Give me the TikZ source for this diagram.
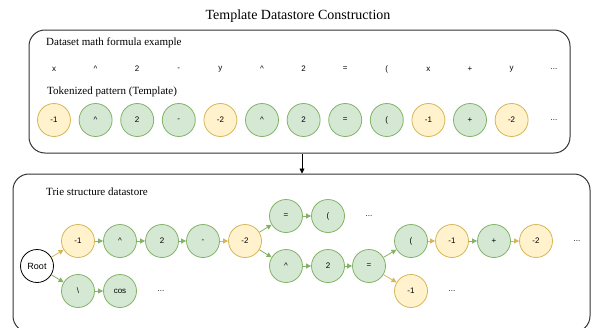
\documentclass[tikz,border=0pt]{standalone}
\usepackage{fontspec}
\setmainfont{Liberation Serif}
\setsansfont{Liberation Sans}
\usetikzlibrary{arrows.meta}
\definecolor{yfill}{HTML}{FFF2CC}
\definecolor{ydraw}{HTML}{D6B656}
\definecolor{gfill}{HTML}{D5E8D4}
\definecolor{gdraw}{HTML}{82B366}
\definecolor{boxdraw}{HTML}{333333}
\begin{document}
\begin{tikzpicture}[x=1pt,y=-1pt,
  tok/.style={circle,minimum size=33pt,inner sep=0pt,font=\sffamily\fontsize{8}{9}\selectfont,line width=0.8pt},
  ytok/.style={tok,fill=yfill,draw=ydraw},
  gtok/.style={tok,fill=gfill,draw=gdraw},
  rtok/.style={tok,fill=white,draw=black,font=\sffamily\fontsize{9}{10}\selectfont},
  ch/.style={font=\sffamily\fontsize{8}{9}\selectfont,inner sep=0pt},
  lbl/.style={font=\fontsize{11}{13}\selectfont,anchor=west,inner sep=0pt},
  panel/.style={draw=boxdraw,line width=1pt,rounded corners=16pt,inner sep=0pt},
  ga/.style={draw=gdraw,line width=0.8pt,-{Triangle[length=5pt,width=5pt]}},
  ya/.style={draw=ydraw,line width=0.8pt,-{Triangle[length=5pt,width=5pt]}},
  ka/.style={draw=black,line width=0.8pt,-{Triangle[length=5pt,width=5pt]}}
]
\useasboundingbox (0,0) rectangle (591,327);
\node (title) at (298,16) {\fontsize{14}{16}\selectfont Template Datastore Construction};

% top panel
\node[panel,minimum width=541pt,minimum height=123pt] (top) at (299.5,91.5) {};
\node[lbl] (l1) at (46,43) {Dataset math formula example};
\node[lbl] (l2) at (47,92) {Tokenized pattern (Template)};

\node[ch] (f1) at (54,69) {x};
\node[ch] (f2) at (95.6,69) {\textasciicircum};
\node[ch] (f3) at (137.2,69) {2};
\node[ch] (f4) at (178.8,69) {-};
\node[ch] (f5) at (220.4,69) {y};
\node[ch] (f6) at (262,69) {\textasciicircum};
\node[ch] (f7) at (303.6,69) {2};
\node[ch] (f8) at (345.2,69) {=};
\node[ch] (f9) at (386.8,69) {(};
\node[ch] (f10) at (428.4,69) {x};
\node[ch] (f11) at (470,69) {+};
\node[ch] (f12) at (511.6,69) {y};
\node[ch] (f13) at (554,69) {...};

\node[ytok] (t1) at (54,120) {-1};
\node[gtok] (t2) at (95.6,120) {\textasciicircum};
\node[gtok] (t3) at (137.2,120) {2};
\node[gtok] (t4) at (178.8,120) {-};
\node[ytok] (t5) at (220.4,120) {-2};
\node[gtok] (t6) at (262,120) {\textasciicircum};
\node[gtok] (t7) at (303.6,120) {2};
\node[gtok] (t8) at (345.2,120) {=};
\node[gtok] (t9) at (386.8,120) {(};
\node[ytok] (t10) at (428.4,120) {-1};
\node[gtok] (t11) at (470,120) {+};
\node[ytok] (t12) at (511.6,120) {-2};
\node[ch] (t13) at (554,120) {...};

% bottom panel
\node[panel,minimum width=577pt,minimum height=158pt] (bot) at (301.5,253) {};
\node[lbl] (l3) at (46,192) {Trie structure datastore};

\draw[ka] ([xshift=2.5pt]top.south) -- ([xshift=0.5pt]bot.north);

% trie
\node[rtok] (root) at (37,266) {Root};
\node[ytok] (a1) at (78,241) {-1};
\node[gtok] (a2) at (120,241) {\textasciicircum};
\node[gtok] (a3) at (162,241) {2};
\node[gtok] (a4) at (203,241) {-};
\node[ytok] (a5) at (245,241) {-2};
\node[gtok] (b1) at (286,216) {=};
\node[gtok] (b2) at (328,216) {(};
\node[ch] (bd) at (369,216) {...};
\node[gtok] (c1) at (286,266) {\textasciicircum};
\node[gtok] (c2) at (328,266) {2};
\node[gtok] (c3) at (369,266) {=};
\node[gtok] (d1) at (411,241) {(};
\node[ytok] (d2) at (452,241) {-1};
\node[gtok] (d3) at (494,241) {+};
\node[ytok] (d4) at (536,241) {-2};
\node[ch] (dd) at (577,241) {...};
\node[ytok] (e1) at (411,291) {-1};
\node[ch] (ed) at (452,291) {...};
\node[gtok] (s1) at (78,291) {\textbackslash};
\node[gtok] (s2) at (120,291) {cos};
\node[ch] (sd) at (161,291) {...};

\draw[ya] (root) -- (a1);
\draw[ga] (root) -- (s1);
\draw[ga] (s1) -- (s2);
\draw[ga] (a1) -- (a2);
\draw[ga] (a2) -- (a3);
\draw[ga] (a3) -- (a4);
\draw[ya] (a4) -- (a5);
\draw[ga] (a5) -- (b1);
\draw[ga] (a5) -- (c1);
\draw[ga] (b1) -- (b2);
\draw[ga] (c1) -- (c2);
\draw[ga] (c2) -- (c3);
\draw[ga] (c3) -- (d1);
\draw[ya] (c3) -- (e1);
\draw[ya] (d1) -- (d2);
\draw[ga] (d2) -- (d3);
\draw[ya] (d3) -- (d4);
\end{tikzpicture}
\end{document}
